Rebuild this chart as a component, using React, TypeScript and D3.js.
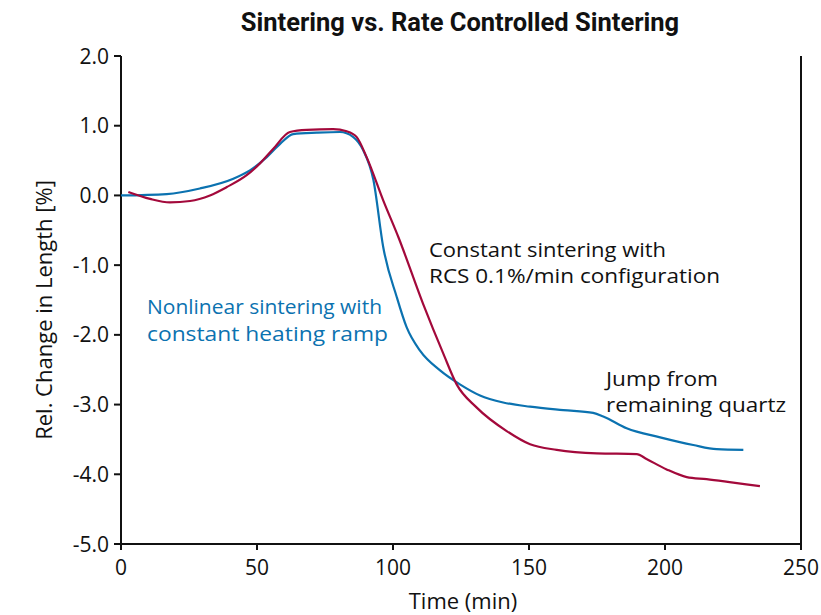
import React from "react";
import * as d3 from "d3";

const blueT = [0, 16.8, 29, 41.3, 47.4, 53.6, 58.5, 63.3, 72, 80.5, 85.3, 89, 92.8, 96.4, 101.4, 105, 110, 117.3, 124.6, 132, 140.5, 150.4, 162.6, 173.6, 177.3, 185.9, 198.2, 210.4, 219, 228.8];
const blueV = [0, 0.02, 0.1, 0.24, 0.36, 0.55, 0.74, 0.88, 0.9, 0.91, 0.84, 0.65, 0.22, -0.74, -1.46, -1.89, -2.23, -2.51, -2.71, -2.87, -2.97, -3.03, -3.08, -3.12, -3.17, -3.34, -3.47, -3.58, -3.64, -3.65];

const redT = [2.7, 10.7, 18, 25.4, 32.7, 38.9, 46.2, 51.1, 56, 62.1, 68.3, 78, 83, 86.6, 90.3, 96.4, 102, 111.1, 118.5, 123.4, 130.7, 141.8, 150.4, 160.2, 174.9, 189.6, 193.2, 200.6, 208, 215.3, 225.1, 234.9];
const redV = [0.05, -0.05, -0.1, -0.08, 0, 0.12, 0.29, 0.46, 0.67, 0.91, 0.94, 0.95, 0.92, 0.84, 0.55, -0.07, -0.6, -1.56, -2.27, -2.71, -3.04, -3.38, -3.57, -3.65, -3.7, -3.71, -3.78, -3.93, -4.04, -4.07, -4.12, -4.17];

const xTicks = [0, 50, 100, 150, 200, 250];
const yTicks = [2, 1, 0, -1, -2, -3, -4, -5];

const title = "Sintering vs. Rate Controlled Sintering";
const xLabel = "Time (min)";
const yLabel = "Rel. Change in Length [%]";
const blueNote = ["Nonlinear sintering with", "constant heating ramp"];
const blackNote = ["Constant sintering with", "RCS 0.1%/min configuration"];
const jumpNote = ["Jump from", "remaining quartz"];

// rendered widths of the annotation lines (style only)
const blueNoteW = [235, 241];
const blackNoteW = [237, 291];
const jumpNoteW = [112, 180];

const W = 821;
const H = 615;
const L = 121;
const R = 801;
const T = 56;
const B = 544;
const BLUE = "#0b72b0";
const RED = "#a3093b";
const FONT = "'Open Sans', sans-serif";
const NOTE_FS = 19.5;

export default function App() {
  const x = d3.scaleLinear().domain([0, 250]).range([L, R]);
  const y = d3.scaleLinear().domain([-5, 2]).range([B, T]);
  const line = d3
    .line<[number, number]>()
    .x((d) => x(d[0]))
    .y((d) => y(d[1]))
    .curve(d3.curveMonotoneX);
  const blue = blueT.map((t, i) => [t, blueV[i]] as [number, number]);
  const red = redT.map((t, i) => [t, redV[i]] as [number, number]);

  return (
    <svg
      width={W}
      height={H}
      style={{ position: "absolute", left: 0, top: 0, background: "#fff" }}
      fontFamily={FONT}
    >
      <text x={460} y={31} textAnchor="middle" fontSize={25.5} fontWeight="bold" fontFamily="Roboto, sans-serif" fill="#111">
        {title}
      </text>
      {/* axes */}
      <line x1={L} x2={L} y1={T} y2={B + 6} stroke="#111" strokeWidth={2} />
      <line x1={L - 7} x2={R} y1={B} y2={B} stroke="#111" strokeWidth={2} />
      <line x1={R} x2={R} y1={T} y2={B} stroke="#111" strokeWidth={2} />
      {yTicks.map((v) => (
        <g key={"y" + v}>
          <line x1={L - 7} x2={L} y1={y(v)} y2={y(v)} stroke="#111" strokeWidth={2} />
          <text x={L - 12} y={y(v)} dy="0.36em" textAnchor="end" fontSize={21} fill="#111">
            {v.toFixed(1)}
          </text>
        </g>
      ))}
      {xTicks.map((t) => (
        <g key={"x" + t}>
          <line x1={x(t)} x2={x(t)} y1={B} y2={B + 6} stroke="#111" strokeWidth={2} />
          <text x={x(t)} y={B + 31} textAnchor="middle" fontSize={21} fill="#111">
            {t}
          </text>
        </g>
      ))}
      <text x={463} y={609} textAnchor="middle" fontSize={22} fill="#111">
        {xLabel}
      </text>
      <text
        transform={`translate(52, 310) rotate(-90)`}
        textAnchor="middle"
        fontSize={22}
        fill="#111"
      >
        {yLabel}
      </text>
      <path d={line(blue) || ""} fill="none" stroke={BLUE} strokeWidth={2.2} />
      <path d={line(red) || ""} fill="none" stroke={RED} strokeWidth={2.2} />
      {blueNote.map((s, i) => (
        <text key={s} x={147} y={314 + i * 27} fontSize={NOTE_FS} textLength={blueNoteW[i]} lengthAdjust="spacingAndGlyphs" fill={BLUE}>
          {s}
        </text>
      ))}
      {blackNote.map((s, i) => (
        <text key={s} x={429} y={257 + i * 26} fontSize={NOTE_FS} textLength={blackNoteW[i]} lengthAdjust="spacingAndGlyphs" fill="#111">
          {s}
        </text>
      ))}
      {jumpNote.map((s, i) => (
        <text key={s} x={606} y={386 + i * 26} fontSize={NOTE_FS} textLength={jumpNoteW[i]} lengthAdjust="spacingAndGlyphs" fill="#111">
          {s}
        </text>
      ))}
    </svg>
  );
}
